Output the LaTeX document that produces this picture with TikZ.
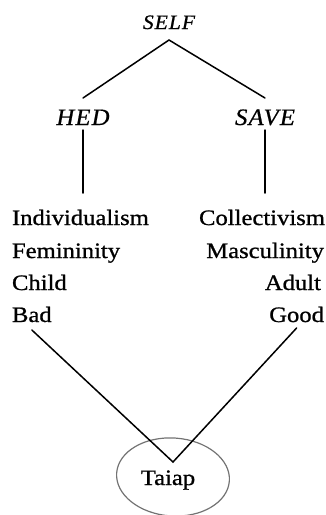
\documentclass[tikz,border=0pt]{standalone}
\usepackage{fontspec}
\usetikzlibrary{shapes.geometric}
\newfontfamily\bodyf{Liberation Serif}[FakeStretch=1.12,FakeBold=0.9]
\newfontfamily\labf{Liberation Serif}[FakeStretch=1.05,LetterSpace=5,FakeBold=0.7]
\tikzset{
  word/.style={inner sep=0pt, outer sep=0pt, font=\bodyf\fontsize{22}{26}\selectfont},
  head/.style={inner sep=0pt, outer sep=0pt, font=\labf\itshape\fontsize{23.5}{28}\selectfont, anchor=base},
  link/.style={line width=1.5pt, line cap=round},
}
\begin{document}
\begin{tikzpicture}[x=1pt,y=1pt]
\useasboundingbox (0,0) rectangle (325,-515);
% top labels
\node[head, font=\labf\itshape\fontsize{20.5}{24}\selectfont, text height=13pt, text depth=11pt] (self) at (169,-29) {SELF};
\node[head, text height=27pt, text depth=5pt] (hed) at (83,-125) {HED};
\node[head, text height=27pt, text depth=5pt] (save) at (265,-125) {SAVE};
% left column
\node[word, anchor=base west, text height=32pt] (ind) at (12,-225) {Individualism};
\node[word, anchor=base west] (fem) at (12,-258) {Femininity};
\node[word, anchor=base west] (child) at (12,-290) {Child};
\node[word, anchor=base west, text depth=8pt] (bad) at (12,-322) {Bad};
% right column
\node[word, anchor=base east, text height=32pt] (col) at (325,-225) {Collectivism};
\node[word, anchor=base east] (mas) at (324,-258) {Masculinity};
\node[word, anchor=base east] (adult) at (321,-290) {Adult};
\node[word, anchor=base east, text depth=6pt] (good) at (324,-322) {Good};
% bottom
\node[ellipse, draw=black!55, line width=1.2pt, minimum width=113pt, minimum height=78pt, inner sep=0pt, rotate=-4] (ring) at (173,-477) {};
\node[word, anchor=base, text height=23pt] (taiap) at (168,-485) {Taiap};
% connectors
\draw[link] (hed.north) -- (self.south) -- (save.north);
\draw[link] (hed.south) -- (hed.south |- ind.north);
\draw[link] (save.south) -- (save.south |- col.north);
\draw[link] (bad.south) -- ([xshift=5pt]taiap.north) -- (good.south);
\end{tikzpicture}
\end{document}
